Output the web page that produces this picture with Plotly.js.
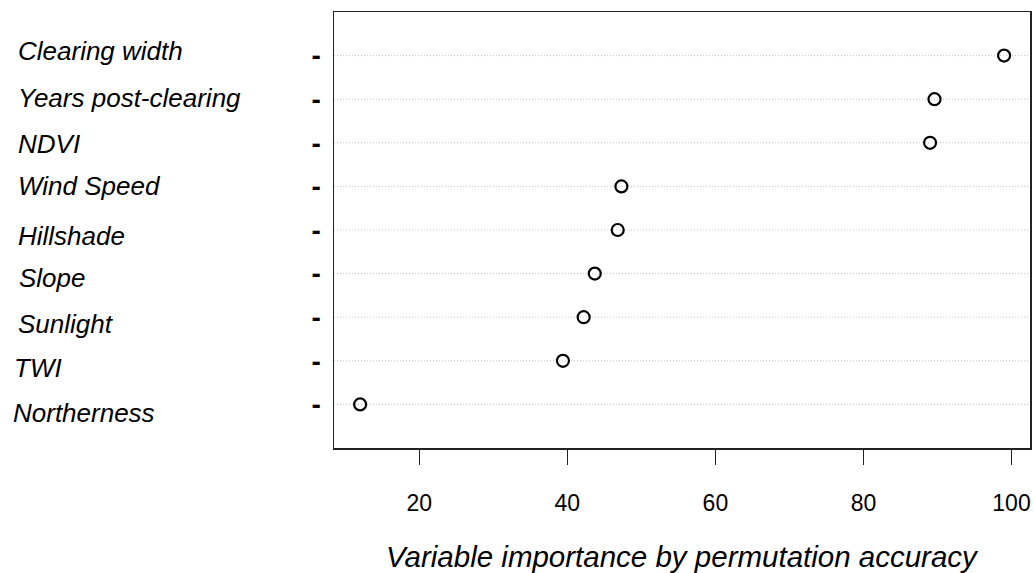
<!DOCTYPE html>
<html>
<head>
<meta charset="utf-8">
<script src="https://cdn.plot.ly/plotly-3.0.1.min.js"></script>
<style>html,body{margin:0;padding:0;background:#fff;}#chart{width:1034px;height:573px;}</style>
</head>
<body>
<div id="chart"></div>
<script>
// Data (top row first)
var variables = ["Clearing width", "Years post-clearing", "NDVI", "Wind Speed", "Hillshade", "Slope", "Sunlight", "TWI", "Northerness"];
var importance = [99.0, 89.6, 89.0, 47.3, 46.8, 43.7, 42.2, 39.4, 12.0];
var xTickVals = [20, 40, 60, 80, 100];
var xTitle = "Variable importance by permutation accuracy";

// Layout-only tweaks for the hand-placed labels (pixels, + = down)
var labelShift = [-5, -1, 1, 0, 6, 4, 7, 7, 9];
var labelX = [-0.457, -0.457, -0.457, -0.457, -0.457, -0.456, -0.457, -0.463, -0.464];

var n = variables.length;
var rows = variables.map(function(_, i){ return n - i; });

var trace = {
  x: importance,
  y: rows,
  type: 'scatter',
  mode: 'markers',
  marker: {symbol: 'circle-open', size: 12, color: '#000', line: {width: 2.2, color: '#000'}},
  hoverinfo: 'x+text',
  text: variables,
  showlegend: false
};

var shapes = rows.map(function(r){
  return {type: 'line', xref: 'paper', x0: 0, x1: 1, yref: 'y', y0: r, y1: r,
          line: {color: '#c4c4c4', width: 1, dash: '1px,2px'}, layer: 'below'};
});

var annotations = variables.map(function(v, i){
  return {text: v, xref: 'paper', x: labelX[i], xanchor: 'left', yref: 'y', y: rows[i],
          yanchor: 'middle', yshift: -labelShift[i], showarrow: false,
          font: {family: 'Liberation Sans, Arial, sans-serif', size: 26, color: '#000', style: 'italic'}};
});
annotations.push({text: xTitle, xref: 'paper', x: 0.5, xanchor: 'center', yref: 'paper', y: -0.2489,
  yanchor: 'middle', showarrow: false,
  font: {family: 'Liberation Sans, Arial, sans-serif', size: 29.5, color: '#000', style: 'italic'}});

var layout = {
  width: 1034, height: 573,
  margin: {l: 334, r: 4, t: 12, b: 125},
  paper_bgcolor: '#fff', plot_bgcolor: '#fff',
  font: {family: 'Liberation Sans, Arial, sans-serif', color: '#000'},
  xaxis: {
    range: [8.47, 102.5],
    tickvals: xTickVals,
    ticktext: xTickVals.map(String),
    ticks: 'outside', ticklen: 15, tickwidth: 1.5, tickcolor: '#222',
    ticklabelstandoff: 19,
    tickfont: {size: 23, color: '#000'},
    showgrid: false, zeroline: false,
    showline: true, linecolor: '#222', linewidth: 1.5, mirror: true
  },
  yaxis: {
    range: [0, n + 1],
    tickvals: rows,
    ticktext: rows.map(function(){ return '<b>-</b>'; }),
    ticks: '', ticklabelstandoff: 6,
    tickfont: {size: 28, color: '#000'},
    showgrid: false, zeroline: false,
    showline: true, linecolor: '#222', linewidth: 1.5, mirror: true
  },
  shapes: shapes,
  annotations: annotations
};

Plotly.newPlot('chart', [trace], layout, {displayModeBar: false, staticPlot: true});
</script>
</body>
</html>
